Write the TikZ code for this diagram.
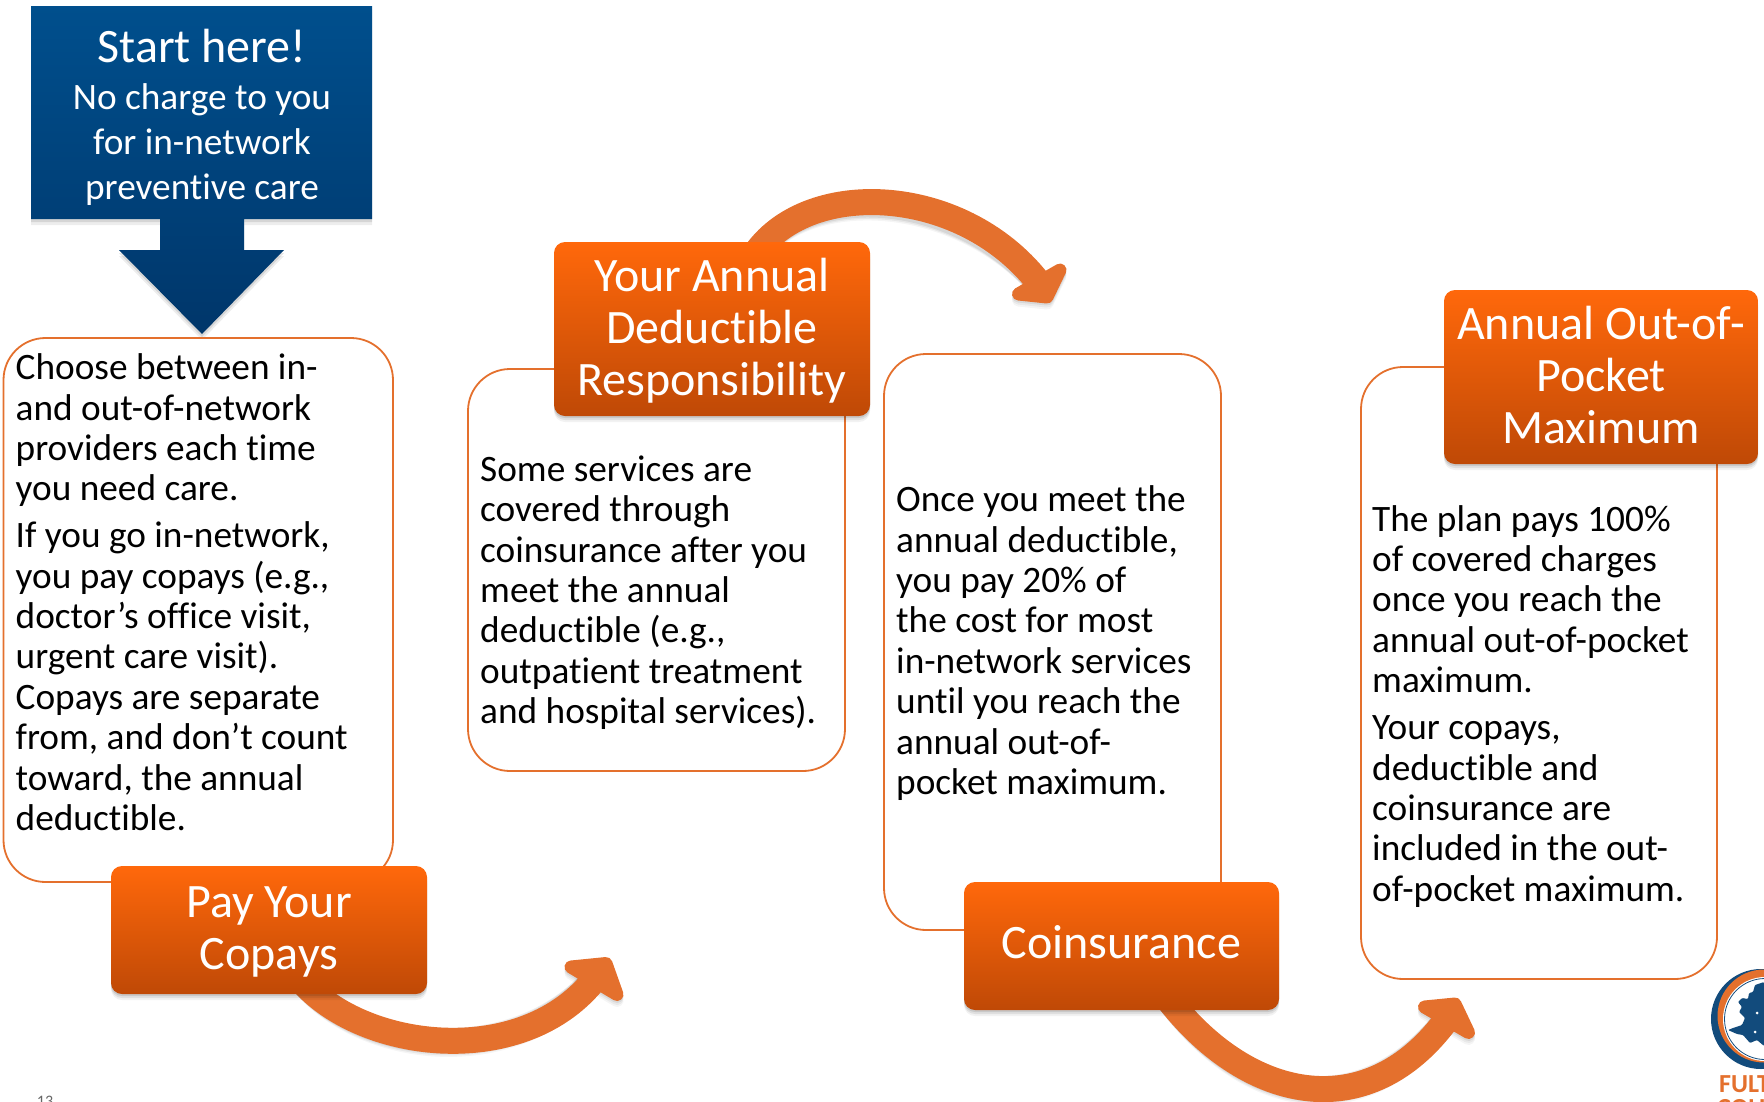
\documentclass[tikz,border=0pt]{standalone}
\usepackage{fontspec}
\setmainfont[Ligatures=NoCommon]{Carlito}
\usetikzlibrary{arrows.meta,shadows}
\definecolor{accent}{HTML}{E4702D}
\definecolor{orangetop}{HTML}{FF680B}
\definecolor{orangebot}{HTML}{BF4906}
\definecolor{bluetop}{HTML}{004F8D}
\definecolor{bluebot}{HTML}{00366A}
\definecolor{navy}{HTML}{124B7C}
\pgfdeclarelayer{arrowlayer}
\pgfsetlayers{arrowlayer,main}
\tikzset{
  softshadow/.style={
    general shadow={fill=black,fill opacity=.10,draw=none,shadow yshift=-2pt},
    general shadow={fill=black,fill opacity=.08,draw=none,shadow yshift=-4pt},
    general shadow={fill=black,fill opacity=.05,draw=none,shadow yshift=-6pt}},
  header/.style={rectangle,rounded corners=11pt,inner sep=0pt,top color=orangetop,bottom color=orangebot,softshadow},
  headertext/.style={inner sep=0pt,text=white,align=center,font=\fontsize{48}{51.8}\selectfont},
  panel/.style={rectangle,rounded corners=42pt,draw=accent,line width=1.8pt,fill=white,inner sep=0pt},
  bodytext/.style={anchor=north west,inner sep=0pt,align=left,text=black,font=\fontsize{37.3}{40.4}\selectfont},
  starttext/.style={inner sep=0pt,align=center,text=white},
  curvearrow/.style={draw=accent,line width=26pt,-{Triangle[length=14pt,width=30pt]}},
  arrowshade/.style={draw=black,line width=26pt,opacity=#1},
  headshape/.style={line width=13pt,line join=round},
}
\newcommand{\flowarrow}[2]{%
  \begin{pgfonlayer}{arrowlayer}
    \draw[arrowshade=.07,yshift=-2pt] #1;
    \draw[arrowshade=.06,yshift=-4pt] #1;
    \draw[arrowshade=.04,yshift=-6pt] #1;
    \draw[headshape,black,fill=black,opacity=.07,yshift=-2pt] #2;
    \draw[headshape,black,fill=black,opacity=.05,yshift=-4pt] #2;
    \draw[headshape,black,fill=black,opacity=.04,yshift=-6pt] #2;
    \draw[curvearrow] #1;
    \draw[headshape,accent,fill=accent] #2;
  \end{pgfonlayer}}
\begin{document}
\begin{tikzpicture}[x=1pt,y=-1pt]
\useasboundingbox (0,0) rectangle (1764,1101);
\clip (0,0) rectangle (1764,1101);

% start callout
\path[fill=black,fill opacity=.10,yshift=-3pt] (31,6)--(372,6)--(372,219)--(244,219)--(244,250)--(284,250)--(202,334)--(119,250)--(160,250)--(160,219)--(31,219)--cycle;
\path[fill=black,fill opacity=.07,yshift=-6pt] (31,6)--(372,6)--(372,219)--(244,219)--(244,250)--(284,250)--(202,334)--(119,250)--(160,250)--(160,219)--(31,219)--cycle;

% panels
\node[panel,minimum width=389.5pt,minimum height=544pt] (panelA) at (198.25,610) {};
\node[panel,minimum width=377pt,minimum height=402pt] (panelB) at (656.5,570) {};
\node[panel,minimum width=337pt,minimum height=576pt] (panelC) at (1052.5,642) {};
\node[panel,minimum width=356pt,minimum height=612pt] (panelD) at (1539,673) {};

\path[top color=bluetop,bottom color=bluebot] (31,6)--(372,6)--(372,219)--(244,219)--(244,250)--(284,250)--(202,334)--(119,250)--(160,250)--(160,219)--(31,219)--cycle;
\node[starttext,font=\fontsize{48}{52}\selectfont] (startA) at (202,46) {Start here!};
\node[starttext,font=\fontsize{37.3}{45}\selectfont,anchor=north] (startB) at (202,83) {No charge to you\\for in-network\\preventive care};

% panel text
\node[bodytext] (textA) at (15.5,353.5) {Choose between in-\\and out-of-network\\providers each time\\you need care.\\[6.5pt]If you go in-network,\\you pay copays (e.g.,\\doctor’s office visit,\\urgent care visit).\\Copays are separate\\from, and don’t count\\toward, the annual\\deductible.};
\node[bodytext] (textB) at (480,455.5) {Some services are\\covered through\\coinsurance after you\\meet the annual\\deductible (e.g.,\\outpatient treatment\\and hospital services).};
\node[bodytext] (textC) at (896,485.5) {Once you meet the\\annual deductible,\\you pay 20\% of\\the cost for most\\in-network services\\until you reach the\\annual out-of-\\pocket maximum.};
\node[bodytext] (textD) at (1372,505) {The plan pays 100\%\\of covered charges\\once you reach the\\annual out-of-pocket\\maximum.\\[6.5pt]Your copays,\\deductible and\\coinsurance are\\included in the out-\\of-pocket maximum.};

% headers
\node[header,minimum width=316pt,minimum height=128pt,label={[headertext,yshift=-2.2pt]center:{Pay Your\\Copays}}] (copay) at (269,930) {};
\node[header,minimum width=316pt,minimum height=174pt,label={[headertext,yshift=-1.7pt]center:{Your Annual\\Deductible\\Responsibility}}] (deduct) at (712,329) {};
\node[header,minimum width=315pt,minimum height=128pt,label={[headertext,yshift=3.4pt]center:{Coinsurance}}] (coins) at (1121.5,946) {};
\node[header,minimum width=314pt,minimum height=174pt,label={[headertext,yshift=2.2pt]center:{Annual Out-of-\\Pocket\\Maximum}}] (oop) at (1601,377) {};

% connectors
\coordinate (endA) at (604,967);
\coordinate (endB) at (1046,292);
\coordinate (endC) at (1455,1008);
\flowarrow{([shift={(34,-12)}]copay.south) .. controls (365,1052) and (525,1070) .. (endA)}
  {(571,967) -- (606,963.5) -- (617,994.5) -- cycle}
\flowarrow{([shift={(42,14)}]deduct.north) .. controls (805,178) and (960,183) .. (endB)}
  {(1018.5,294) -- (1047,297) -- (1060,270) -- cycle}
\flowarrow{([shift={(46,-12)}]coins.south) .. controls (1250,1105) and (1370,1125) .. (endC)}
  {(1424.5,1007) -- (1455,1004) -- (1468.5,1032.5) -- cycle}

% logo
\fill[navy] (1761,1019) circle (50);
\fill[accent] (1764,1016) circle (46.5);
\fill[white] (1765,1019) circle (42);
\draw[navy,line width=.8pt] (1765,1019) circle (40.5);
\fill[navy,rounded corners=1pt] (1738,1002)--(1742,998)--(1748,999)--(1749,993)--(1753,992)--(1755,985)--(1764,982)--(1764,1046)--(1757,1040)--(1750,1043)--(1743,1035)--(1737,1034)--(1728,1030)--(1733,1028)--(1742,1025)--(1745,1018)--(1739,1012)--(1742,1007)--cycle;
\fill[white] (1757,1013) circle (1.5) (1755,1032) circle (1.5);
\node[anchor=base west,inner sep=0pt,text=accent,font=\fontsize{26}{26}\bfseries\selectfont] (logoA) at (1719,1092) {FULT};
\node[anchor=base west,inner sep=0pt,text=accent,font=\fontsize{26}{26}\bfseries\selectfont] (logoB) at (1717,1116) {COU};
\node[anchor=base,inner sep=0pt,text=black!60,font=\fontsize{16}{16}\selectfont] (pagenum) at (45,1106) {13};
\end{tikzpicture}
\end{document}
